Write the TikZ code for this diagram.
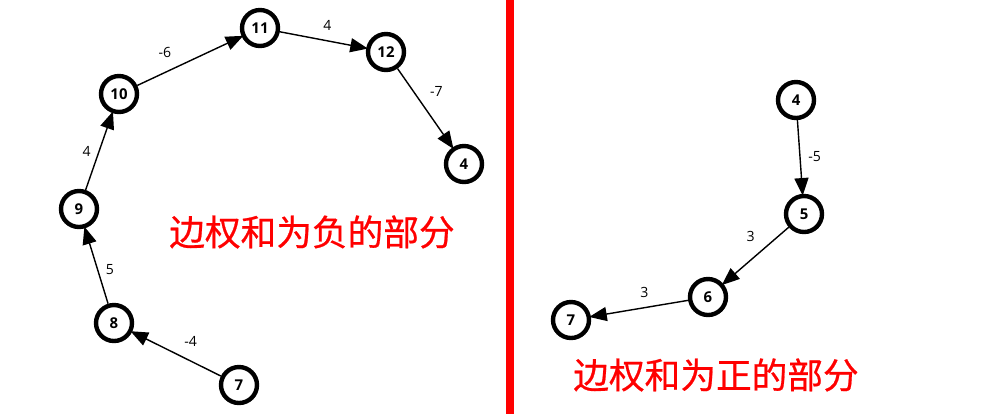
\documentclass[tikz,border=0pt]{standalone}
\usepackage{fontspec}
\setmainfont{Open Sans}
\newfontfamily\cjk[FakeBold=0.6]{Noto Sans CJK SC}
\usetikzlibrary{arrows.meta}
\usetikzlibrary{positioning}

\begin{document}
\begin{tikzpicture}[x=0.02cm,y=-0.02cm,font=\sffamily]
  \tikzset{vertex/.style={circle, draw, line width=2.5pt,
      minimum size=0.72cm, inner sep=0pt,
      font=\fontsize{8.5}{10}\selectfont\bfseries}}
  \tikzset{to/.style={-{Triangle[length=10pt,width=8pt]}, line width=0.8pt,
      font=\fontsize{8}{10}\selectfont, shorten >=-1pt}}
  \tikzset{caption/.style={text=red, font=\cjk\fontsize{20.3}{24}\selectfont}}
  \useasboundingbox (0,0) rectangle (1000,414);
  % negative part
  \node[vertex] (n7)  at (239,385) {7};
  \node[vertex] (n8)  at (114,323) {8};
  \node[vertex] (n9)  at (79,209)  {9};
  \node[vertex] (n10) at (119,94)  {10};
  \node[vertex] (n11) at (260,28)  {11};
  \node[vertex] (n12) at (386,52)  {12};
  \node[vertex] (n4)  at (464,164) {4};
  \draw[to] (n7) -- node[pos=0.5,above right=1pt]{-4} (n8);
  \draw[to] (n8) -- node[pos=0.45,right=1pt]{5} (n9);
  \draw[to] (n9) -- node[midway,left=1pt]{4} (n10);
  \draw[to] (n10) -- node[pos=0.4,above left=1pt]{-6} (n11);
  \draw[to] (n11) -- node[pos=0.55,above=2pt]{4} (n12);
  \draw[to] (n12) -- node[pos=0.45,above right=1pt]{-7} (n4);
  \node[caption] (neg) at (312,232) {边权和为负的部分};
  % separator
  \draw[red, line width=4pt] (510,0) -- (510,414);
  % positive part
  \node[vertex] (m4) at (796,100) {4};
  \node[vertex] (m5) at (804,214) {5};
  \node[vertex] (m6) at (708,297) {6};
  \node[vertex] (m7) at (571,320) {7};
  \draw[to] (m4) -- node[midway,right=1pt]{-5} (m5);
  \draw[to] (m5) -- node[pos=0.4,above left=1pt]{3} (m6);
  \draw[to] (m6) -- node[pos=0.45,above=2pt]{3} (m7);
  \node[caption] (pos) at (716,375) {边权和为正的部分};
\end{tikzpicture}
\end{document}
